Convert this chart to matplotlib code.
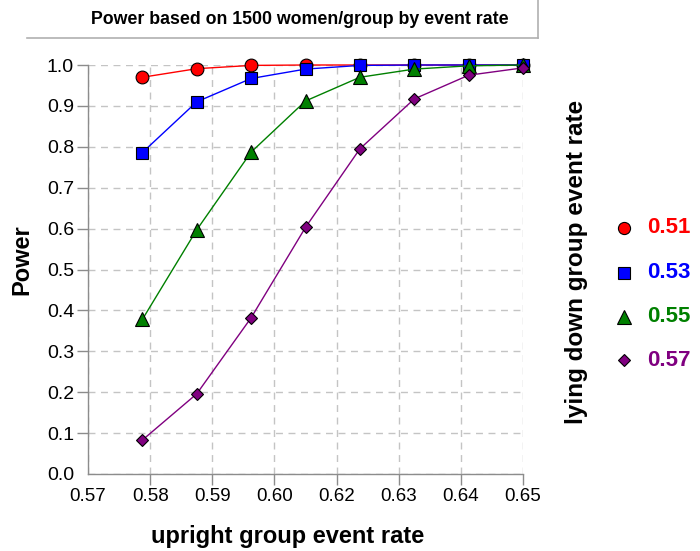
import matplotlib
matplotlib.use("Agg")
import matplotlib.pyplot as plt
from matplotlib.lines import Line2D
from matplotlib import font_manager
import numpy as np

plt.rcParams['font.family'] = ['Liberation Sans', 'DejaVu Sans']

# Data
upright_rate = [0.58, 0.59, 0.60, 0.61, 0.62, 0.63, 0.64, 0.65]
lying_rates = ["0.51", "0.53", "0.55", "0.57"]
power_051 = [0.970, 0.991, 0.999, 1.000, 1.000, 1.000, 1.000, 1.000]
power_053 = [0.786, 0.910, 0.967, 0.990, 0.999, 1.000, 1.000, 1.000]
power_055 = [0.378, 0.597, 0.787, 0.912, 0.970, 0.990, 0.998, 1.000]
power_057 = [0.083, 0.196, 0.382, 0.603, 0.795, 0.917, 0.975, 0.993]
series = [power_051, power_053, power_055, power_057]
colors = ["#ff0000", "#0000ff", "#008000", "#800080"]
markers = ["o", "s", "^", "D"]
msizes = [9.2, 8.8, 10.0, 6.6]

x_ticks = list(np.linspace(0.57, 0.65, 8))
x_ticklabels = ["0.57", "0.58", "0.59", "0.60", "0.62", "0.63", "0.64", "0.65"]
y_ticks = [0.0, 0.1, 0.2, 0.3, 0.4, 0.5, 0.6, 0.7, 0.8, 0.9, 1.0]

installed = {f.name for f in font_manager.fontManager.ttflist}
if "Liberation Sans Narrow" in installed:
    title_family, title_size = ["Liberation Sans Narrow", "DejaVu Sans"], 15.5
else:
    title_family, title_size = ["Liberation Sans", "DejaVu Sans"], 12.8

fig = plt.figure(figsize=(7.0, 5.51), dpi=100)
ax = fig.add_axes([88/700, 1-474/551, (523-88)/700, (474-65)/551])

for vals, c, m, ms in zip(series, colors, markers, msizes):
    ax.plot(upright_rate, vals, color=c, lw=1.0, marker=m, markersize=ms,
            markerfacecolor=c, markeredgecolor="black", markeredgewidth=0.8,
            clip_on=False, zorder=3)

ax.set_xlim(0.57, 0.65)
ax.set_ylim(0.0, 1.0)
ax.set_xticks(x_ticks)
ax.set_xticklabels(x_ticklabels)
ax.set_yticks(y_ticks)
ax.set_yticklabels([f"{v:.1f}" for v in y_ticks])

ax.grid(True, color="#c4c4c4", linestyle=(0, (5, 4)), linewidth=1.0, zorder=0)
ax.set_axisbelow(True)
for s in ["top", "right"]:
    ax.spines[s].set_visible(False)
for s in ["left", "bottom"]:
    ax.spines[s].set_color("#8c8c8c")
    ax.spines[s].set_linewidth(1.0)
ax.tick_params(axis="both", direction="out", length=8, width=1.0, color="#8c8c8c",
               labelsize=14, labelcolor="black", pad=2)
ax.tick_params(axis="x", labelsize=13.5)
# hide first ticks at corner
ax.xaxis.get_major_ticks()[0].tick1line.set_visible(False)
ax.yaxis.get_major_ticks()[0].tick1line.set_visible(False)

# Axis labels
fig.text(288/700, 1-537/551, "upright group event rate", ha="center", va="center",
         fontsize=17, fontweight="bold")
fig.text(22/700, 1-260/551, "Power", rotation=90, ha="center", va="center",
         fontsize=17, fontweight="bold")

# Title with partial box
fig.text(300/700, 1-19/551, "Power based on 1500 women/group by event rate",
         ha="center", va="center", fontsize=title_size, fontweight="bold",
         family=title_family)
fig.add_artist(Line2D([27/700, 538/700], [1-38/551, 1-38/551], color="#b0b0b0", lw=1.2,
                      transform=fig.transFigure))
fig.add_artist(Line2D([538/700, 538/700], [1-38/551, 1.0], color="#b0b0b0", lw=1.2,
                      transform=fig.transFigure))

# Right-side legend
fig.text(576/700, 1-262/551, "lying down group event rate", rotation=90,
         ha="center", va="center", fontsize=17.5, fontweight="bold")
leg_y = [228, 273, 317, 360]
for lab, c, m, ms, yy in zip(lying_rates, colors, markers, msizes, leg_y):
    fig.add_artist(Line2D([624/700], [1-yy/551], marker=m, markersize=ms*0.95,
                          markerfacecolor=c, markeredgecolor="black",
                          markeredgewidth=0.8, linestyle="none",
                          transform=fig.transFigure))
    fig.text(647/700, 1-yy/551, lab, color=c, ha="left", va="center",
             fontsize=16, fontweight="bold")

fig.savefig("out.png", dpi=100)
